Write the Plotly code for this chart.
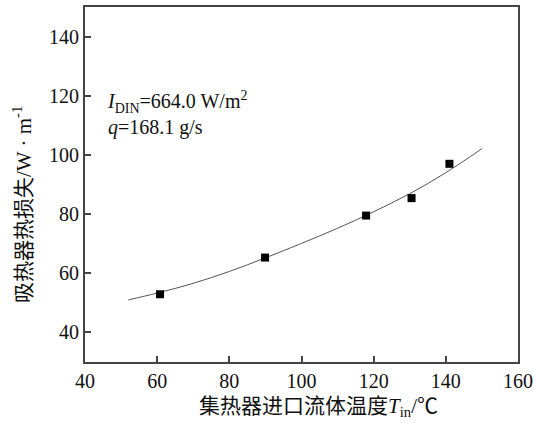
import plotly.graph_objects as go

# measured points
t_in = [60.8, 89.9, 117.9, 130.5, 141.0]
heat_loss = [52.9, 65.3, 79.5, 85.4, 97.0]

# fitted curve
fit_x = [52, 60, 70, 80, 90, 100, 110, 120, 130, 140, 150]
fit_y = [51.0, 53.3, 56.6, 60.6, 65.2, 70.1, 75.2, 80.8, 86.9, 94.0, 102.1]

x_ticks = [40, 60, 80, 100, 120, 140, 160]
y_ticks = [40, 60, 80, 100, 120, 140]

FONT = "Liberation Serif, Noto Sans CJK SC, serif"

fig = go.Figure()
fig.add_trace(go.Scatter(x=fit_x, y=fit_y, mode="lines",
                         line=dict(color="#555555", width=1, shape="spline"),
                         showlegend=False, hoverinfo="skip"))
fig.add_trace(go.Scatter(x=t_in, y=heat_loss, mode="markers",
                         marker=dict(symbol="square", size=8, color="black"),
                         showlegend=False))

fig.update_layout(
    width=534, height=423,
    margin=dict(l=85, r=16, t=7, b=61, autoexpand=False),
    paper_bgcolor="white", plot_bgcolor="white",
    font=dict(family=FONT, size=20, color="#111111"),
    xaxis=dict(range=[40, 160], tickvals=x_ticks, ticks="inside", ticklen=6,
               tickwidth=1.5, tickcolor="#444444", automargin=False,
               showline=True, linecolor="#444444", linewidth=2, mirror=True,
               showgrid=False, zeroline=False,
               tickfont=dict(family=FONT, size=20)),
    yaxis=dict(range=[30, 150], tickvals=y_ticks, ticks="inside", ticklen=6,
               tickwidth=1.5, tickcolor="#444444", automargin=False,
               showline=True, linecolor="#444444", linewidth=2, mirror=True,
               showgrid=False, zeroline=False,
               tickfont=dict(family=FONT, size=20)),
    annotations=[
        dict(text="<i>I</i><sub>DIN</sub>=664.0 W/m<sup>2</sup><br><i>q</i>=168.1 g/s",
             xref="paper", yref="paper", x=(105 - 85) / 433, y=1 - (86 - 7) / 355,
             xanchor="left", yanchor="top", align="left", showarrow=False,
             font=dict(family=FONT, size=20)),
        dict(text="集热器进口流体温度<i>T</i><sub>in</sub>/℃",
             xref="paper", yref="paper", x=(318 - 85) / 433, y=-(407 - 362) / 355,
             xanchor="center", yanchor="middle", showarrow=False,
             font=dict(family=FONT, size=21)),
        dict(text="吸热器热损失/W · m<sup>-1</sup>",
             xref="paper", yref="paper", x=-(85 - 22) / 433, y=1 - (205 - 7) / 355,
             xanchor="center", yanchor="middle", textangle=-90, showarrow=False,
             font=dict(family=FONT, size=21)),
    ],
)

fig.write_html("out.html", config={"displayModeBar": False},
               post_script="document.body.style.margin='0';")
